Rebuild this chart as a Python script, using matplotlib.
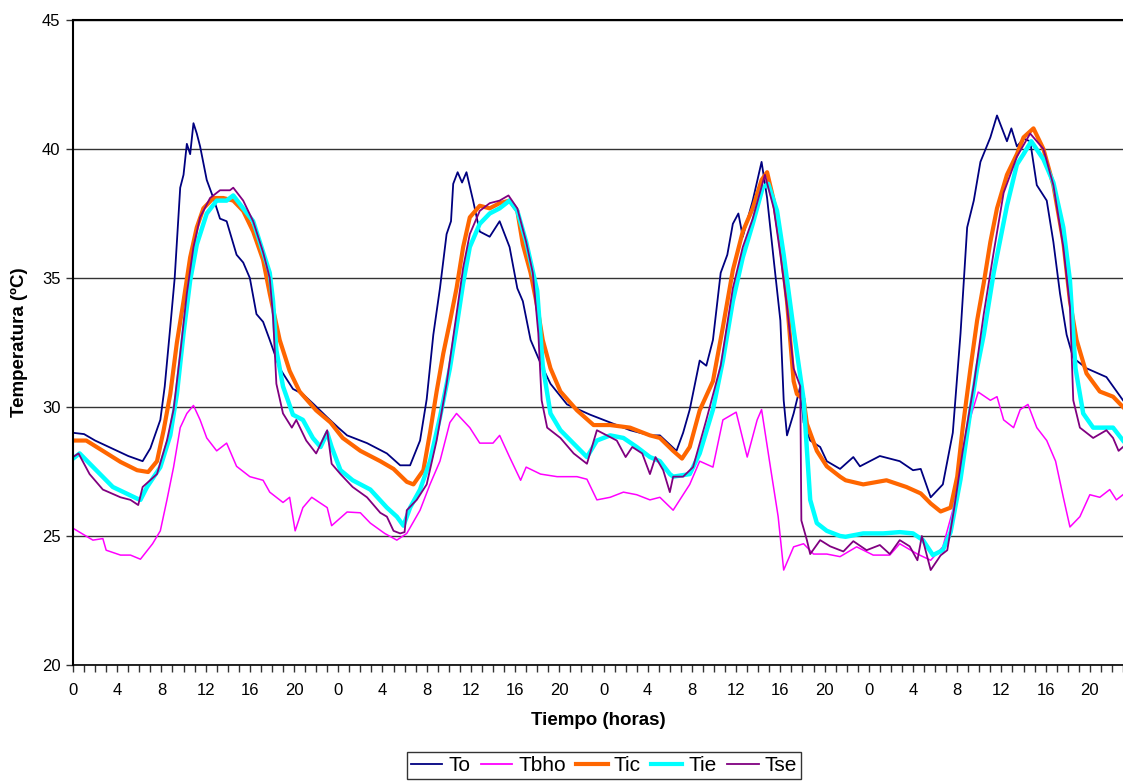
import matplotlib
matplotlib.use("Agg")
import matplotlib.pyplot as plt
from matplotlib.ticker import MultipleLocator, FuncFormatter

plt.rcParams['font.family'] = ['Liberation Sans', 'DejaVu Sans']

# hours since start (4 days)
to_h = [0, 1, 2, 3, 4, 5, 6.3, 7, 7.9, 8.3, 8.8, 9.2, 9.7, 10.0, 10.3, 10.6, 10.9, 11.2, 11.5,
        12.1, 12.7, 13.3, 13.9, 14.8, 15.4, 16.0, 16.6, 17.2, 17.8, 18.7, 19.9, 20.8, 21.8, 23.0,
        24.0, 24.8, 26.6, 28.4, 29.6, 30.5, 31.4, 32.0, 32.6, 33.2, 33.8, 34.2, 34.4, 34.8, 35.2,
        35.6, 36.2, 36.8, 37.7, 38.6, 39.5, 40.2, 40.7, 41.4, 42.3, 43.2, 44.7, 46.8, 48.6, 50.4,
        52.2, 53.1, 54.6, 55.2, 55.8, 56.7, 57.3, 57.9, 58.6, 59.2, 59.7, 60.2, 60.6, 61.5, 62.3,
        62.8, 63.4, 64.0, 64.3, 64.6, 65.2, 65.8, 66.1, 66.7, 67.6, 68.2, 69.4, 70.6, 71.2, 73.0,
        74.8, 76.0, 76.7, 77.6, 78.7, 79.6, 80.3, 80.9, 81.5, 82.1, 83.0, 83.6, 84.5, 84.9, 85.4,
        86.0, 86.6, 87.2, 88.1, 88.7, 89.3, 89.9, 90.5, 91.7, 93.5, 95.0]
to_v = [29.0, 28.95, 28.7, 28.5, 28.3, 28.1, 27.9, 28.4, 29.5, 30.8, 33.1, 35.0, 38.5, 39.0, 40.2, 39.8, 41.0, 40.6, 40.1,
        38.8, 38.1, 37.3, 37.2, 35.9, 35.6, 35.0, 33.6, 33.3, 32.6, 31.5, 30.7, 30.5, 30.1, 29.6,
        29.2, 28.9, 28.6, 28.2, 27.74, 27.74, 28.7, 30.3, 32.8, 34.6, 36.7, 37.2, 38.65, 39.1, 38.7,
        39.1, 38.0, 36.8, 36.6, 37.2, 36.2, 34.6, 34.1, 32.6, 31.7, 30.9, 30.1, 29.7, 29.4, 29.1,
        28.9, 28.9, 28.3, 29.0, 29.9, 31.8, 31.6, 32.6, 35.2, 35.9, 37.1, 37.5, 36.6, 38.0, 39.5,
        38.1, 35.7, 33.35, 30.26, 28.9, 29.75, 30.8, 29.4, 28.7, 28.45, 27.9, 27.6, 28.06, 27.7, 28.1,
        27.9, 27.55, 27.6, 26.5, 27.0, 29.0, 32.85, 36.96, 38.0, 39.5, 40.45, 41.3, 40.3, 40.8, 40.1,
        40.4, 40.3, 38.6, 38.0, 36.4, 34.4, 32.8, 31.9, 31.5, 31.16, 30.26]

tbho_h = [0, 1.8, 2.7, 3.0, 4.3, 5.2, 6.1, 7.2, 7.9, 8.5, 9.1, 9.7, 10.3, 10.9, 11.5, 12.1, 13.0,
          13.9, 14.8, 16.0, 17.2, 17.8, 19.0, 19.6, 20.1, 20.8, 21.6, 23.0, 23.4, 24.8, 26.0, 26.9,
          28.2, 29.3, 30.2, 31.4, 32.3, 33.2, 34.1, 34.7, 35.9, 36.8, 38.0, 38.6, 39.5, 40.5, 41.0,
          42.3, 43.8, 45.6, 46.5, 47.4, 48.6, 49.8, 51.0, 52.2, 53.1, 54.3, 54.9, 55.8, 56.7, 57.9,
          58.8, 60.0, 61.0, 61.9, 62.3, 63.1, 63.8, 64.3, 65.2, 66.1, 67.0, 68.2, 69.4, 70.9, 72.4,
          73.9, 74.8, 76.4, 77.6, 78.7, 79.6, 80.5, 81.2, 81.9, 83.0, 83.6, 84.2, 85.1, 85.7, 86.4,
          87.2, 88.1, 88.9, 89.6, 90.2, 91.1, 92.0, 92.9, 93.8, 94.4, 95.0]
tbho_v = [25.3, 24.84, 24.9, 24.45, 24.26, 24.26, 24.1, 24.7, 25.2, 26.4, 27.67, 29.2, 29.75, 30.06, 29.5, 28.8, 28.3,
          28.6, 27.7, 27.3, 27.16, 26.7, 26.3, 26.5, 25.2, 26.1, 26.5, 26.1, 25.4, 25.93, 25.9, 25.5,
          25.1, 24.84, 25.1, 26.0, 27.0, 27.9, 29.4, 29.75, 29.2, 28.6, 28.6, 28.9, 28.06, 27.16, 27.67,
          27.4, 27.3, 27.3, 27.2, 26.4, 26.5, 26.7, 26.6, 26.4, 26.5, 26.0, 26.4, 27.0, 27.9, 27.67,
          29.5, 29.8, 28.06, 29.5, 29.9, 27.67, 25.75, 23.68, 24.58, 24.7, 24.3, 24.3, 24.2, 24.58, 24.26,
          24.26, 24.7, 24.3, 24.06, 24.58, 26.0, 28.3, 29.6, 30.58, 30.26, 30.4, 29.5, 29.2, 29.9, 30.1,
          29.2, 28.7, 27.9, 26.5, 25.35, 25.75, 26.6, 26.5, 26.8, 26.4, 26.6]

tic_h = [0, 1.2, 2.7, 4.3, 5.8, 6.8, 7.6, 8.2, 8.8, 9.4, 10.0, 10.6, 11.2, 11.8, 12.7, 13.6, 14.5,
         15.4, 16.3, 17.2, 17.8, 18.7, 19.6, 20.5, 22.0, 23.3, 24.4, 26.0, 27.8, 29.0, 30.2, 30.8,
         31.7, 32.3, 32.9, 33.5, 34.1, 34.7, 35.3, 35.9, 36.8, 37.7, 38.6, 39.5, 40.2, 40.7, 41.4,
         42.0, 42.5, 43.2, 44.1, 45.6, 47.1, 48.6, 50.4, 52.2, 53.1, 54.3, 55.1, 55.8, 56.7, 57.9,
         58.8, 59.7, 60.6, 61.5, 62.3, 62.8, 63.4, 64.0, 64.6, 65.2, 65.5, 66.1, 66.4, 67.3, 68.2,
         69.4, 69.9, 71.5, 73.6, 75.4, 76.7, 77.6, 78.5, 79.4, 80.0, 80.5, 81.2, 81.8, 82.4, 83.0,
         83.6, 84.5, 85.4, 86.0, 86.9, 87.8, 88.7, 89.6, 90.2, 90.8, 91.7, 92.9, 94.1, 95.0]
tic_v = [28.7, 28.7, 28.3, 27.87, 27.55, 27.48, 27.9, 29.1, 30.5, 32.5, 34.1, 35.8, 36.96, 37.7, 38.1, 38.1, 38.0,
         37.6, 36.8, 35.7, 34.4, 32.6, 31.4, 30.6, 29.87, 29.4, 28.8, 28.3, 27.9, 27.6, 27.1, 27.0,
         27.55, 29.0, 30.6, 32.07, 33.3, 34.6, 36.2, 37.35, 37.8, 37.7, 37.9, 38.0, 37.6, 36.3, 35.2,
         33.9, 32.6, 31.5, 30.6, 29.87, 29.3, 29.3, 29.2, 28.9, 28.8, 28.3, 28.0, 28.45, 29.87, 31.0,
         33.1, 35.3, 36.8, 37.7, 38.8, 39.1, 38.0, 36.4, 34.1, 31.0, 30.5, 30.3, 29.35, 28.3, 27.7,
         27.3, 27.16, 27.0, 27.16, 26.9, 26.65, 26.26, 25.95, 26.1, 27.3, 29.2, 31.5, 33.35, 34.8, 36.4,
         37.7, 39.0, 39.8, 40.45, 40.8, 40.0, 38.6, 36.4, 34.1, 32.6, 31.3, 30.6, 30.4, 30.0]

tie_h = [0, 0.6, 2.1, 3.6, 5.8, 6.1, 6.7, 7.9, 8.8, 9.4, 10.0, 10.6, 11.2, 12.1, 13.0, 13.9, 14.5,
         15.4, 16.3, 17.2, 17.8, 18.1, 18.4, 19.0, 19.9, 20.8, 21.7, 22.4, 23.0, 23.4, 24.2, 25.3,
         26.9, 28.4, 29.3, 29.9, 30.5, 31.4, 32.3, 33.2, 34.1, 34.7, 35.3, 35.9, 36.8, 37.7, 38.6,
         39.5, 40.2, 41.0, 42.0, 42.5, 43.2, 44.1, 45.6, 46.5, 47.4, 48.6, 49.8, 51.0, 52.2, 53.1,
         54.0, 54.3, 55.8, 56.7, 57.9, 58.8, 59.7, 60.6, 61.5, 62.4, 62.9, 63.7, 64.3, 65.2, 65.8,
         66.1, 66.7, 67.3, 68.2, 69.4, 69.9, 71.5, 73.3, 74.8, 76.0, 76.9, 77.8, 78.7, 79.4, 80.3,
         81.2, 81.8, 82.4, 83.3, 84.5, 85.4, 86.0, 86.7, 87.8, 88.7, 89.6, 90.2, 90.7, 91.4, 92.3,
         93.5, 94.1, 95.0]
tie_v = [28.0, 28.2, 27.55, 26.9, 26.45, 26.4, 26.9, 27.67, 28.9, 30.5, 32.85, 34.9, 36.3, 37.5, 38.0, 38.0, 38.2,
         37.7, 37.2, 36.0, 35.2, 34.1, 32.2, 30.8, 29.7, 29.5, 28.8, 28.45, 29.0, 28.45, 27.55, 27.16,
         26.8, 26.1, 25.75, 25.4, 26.1, 26.8, 27.9, 29.6, 31.5, 33.1, 34.8, 36.2, 37.1, 37.5, 37.7,
         38.0, 37.6, 36.4, 34.5, 31.6, 29.75, 29.1, 28.45, 28.06, 28.7, 28.9, 28.8, 28.45, 28.06, 27.9,
         27.4, 27.3, 27.4, 28.2, 29.9, 31.8, 34.1, 35.8, 37.1, 38.5, 38.65, 37.6, 35.9, 33.0, 31.2,
         30.3, 26.4, 25.5, 25.2, 25.0, 24.97, 25.1, 25.1, 25.15, 25.1, 24.84, 24.26, 24.45, 25.15, 27.2,
         29.87, 31.5, 32.8, 35.2, 37.8, 39.4, 39.8, 40.3, 39.6, 38.7, 36.96, 34.9, 31.5, 29.75, 29.2,
         29.2, 29.2, 28.7]

tse_h = [0, 0.5, 1.5, 2.7, 4.3, 5.2, 5.9, 6.3, 7.6, 8.5, 9.1, 9.7, 10.3, 10.9, 11.5, 12.4, 13.3,
         14.2, 14.5, 15.4, 16.3, 17.2, 17.8, 18.1, 18.4, 19.0, 19.8, 20.2, 21.1, 22.0, 23.0, 23.4,
         24.2, 25.3, 26.6, 27.8, 28.4, 29.0, 29.6, 30.0, 30.2, 31.1, 32.0, 32.9, 33.8, 34.7, 35.3,
         35.9, 36.8, 37.7, 38.6, 39.4, 40.2, 41.0, 41.6, 42.1, 42.4, 42.9, 44.1, 45.3, 46.5, 47.4,
         48.3, 49.2, 50.0, 50.6, 51.5, 52.2, 52.7, 53.4, 54.0, 54.3, 55.2, 56.1, 57.3, 58.6, 59.7,
         60.6, 61.5, 62.6, 63.4, 64.0, 64.6, 65.2, 65.8, 65.9, 66.4, 66.7, 67.6, 68.5, 69.7, 70.6,
         71.8, 73.0, 73.9, 74.8, 75.7, 76.4, 76.8, 77.6, 78.5, 79.1, 79.7, 80.5, 81.5, 82.4, 83.3,
         84.2, 85.4, 86.6, 87.8, 88.7, 89.6, 90.2, 90.5, 91.1, 92.3, 93.5, 94.1, 94.6, 95.0]
tse_v = [28.06, 28.2, 27.4, 26.8, 26.5, 26.4, 26.2, 26.9, 27.4, 28.7, 29.9, 32.07, 34.4, 36.2, 37.35, 38.1, 38.4,
         38.4, 38.5, 38.0, 37.2, 36.0, 35.0, 33.5, 30.9, 29.75, 29.2, 29.5, 28.7, 28.2, 29.1, 27.8,
         27.4, 26.9, 26.5, 25.9, 25.75, 25.2, 25.1, 25.15, 26.0, 26.4, 27.0, 28.7, 30.9, 33.6, 35.4,
         36.7, 37.6, 37.9, 38.0, 38.2, 37.7, 36.4, 35.2, 32.85, 30.26, 29.2, 28.8, 28.2, 27.8, 29.1,
         28.9, 28.7, 28.06, 28.45, 28.2, 27.4, 28.06, 27.55, 26.7, 27.3, 27.3, 27.67, 29.5, 31.6, 34.6,
         36.2, 37.3, 39.0, 37.7, 35.9, 33.9, 31.5, 30.8, 25.6, 24.84, 24.3, 24.84, 24.6, 24.4, 24.8,
         24.45, 24.65, 24.3, 24.84, 24.6, 24.06, 25.0, 23.68, 24.25, 24.45, 26.0, 28.3, 30.85, 33.6, 36.0,
         38.3, 39.7, 40.6, 40.0, 38.6, 36.2, 33.9, 30.26, 29.2, 28.8, 29.1, 28.8, 28.3, 28.45]

fig = plt.figure(figsize=(11.23, 7.82), dpi=100)
ax = fig.add_axes([73/1123, 1-665/782, 1-73/1123, (665-20)/782])

ax.plot(to_h, to_v, color='#000080', lw=1.3, label='To')
ax.plot(tbho_h, tbho_v, color='#FF00FF', lw=1.1, label='Tbho')
ax.plot(tic_h, tic_v, color='#FF6600', lw=3, label='Tic')
ax.plot(tie_h, tie_v, color='#00FFFF', lw=3.2, label='Tie')
ax.plot(tse_h, tse_v, color='#800080', lw=1.3, label='Tse')

ax.set_xlim(0, 95)
ax.set_ylim(20, 45)
ax.yaxis.set_major_locator(MultipleLocator(5))
ax.xaxis.set_major_locator(MultipleLocator(4))
ax.xaxis.set_minor_locator(MultipleLocator(1))
ax.xaxis.set_major_formatter(FuncFormatter(lambda v, p: "%d" % (int(round(v)) % 24)))
ax.grid(axis='y', color='#333333', lw=1)
ax.set_axisbelow(True)
for s in ['top', 'right']:
    ax.spines[s].set_visible(False)
ax.spines['left'].set_linewidth(1.5)
ax.spines['bottom'].set_linewidth(1.2)
ax.axhline(45, color='black', lw=1.5, clip_on=False)
ax.tick_params(axis='both', which='both', direction='out', length=5, width=1,
               color='#333333', labelsize=12)
ax.tick_params(axis='x', which='both', pad=8)
ax.tick_params(axis='y', pad=4)

ax.set_xlabel("Tiempo (horas)", fontsize=13.5, fontweight='bold', labelpad=10)
ax.set_ylabel("Temperatura (ºC)", fontsize=13.5, fontweight='bold', labelpad=10)

leg = fig.legend(loc='upper center', bbox_to_anchor=(604/1123, 1-752/782), ncol=5,
                 fontsize=15, frameon=True, fancybox=False, edgecolor='black',
                 handlelength=1.5, columnspacing=0.5, handletextpad=0.3, borderpad=0.2,
                 borderaxespad=0)
leg.get_frame().set_linewidth(1)
for line in leg.get_lines():
    line.set_linewidth(3 if line.get_color() in ('#FF6600', '#00FFFF') else 1.3)

fig.savefig("out.png", dpi=100)
